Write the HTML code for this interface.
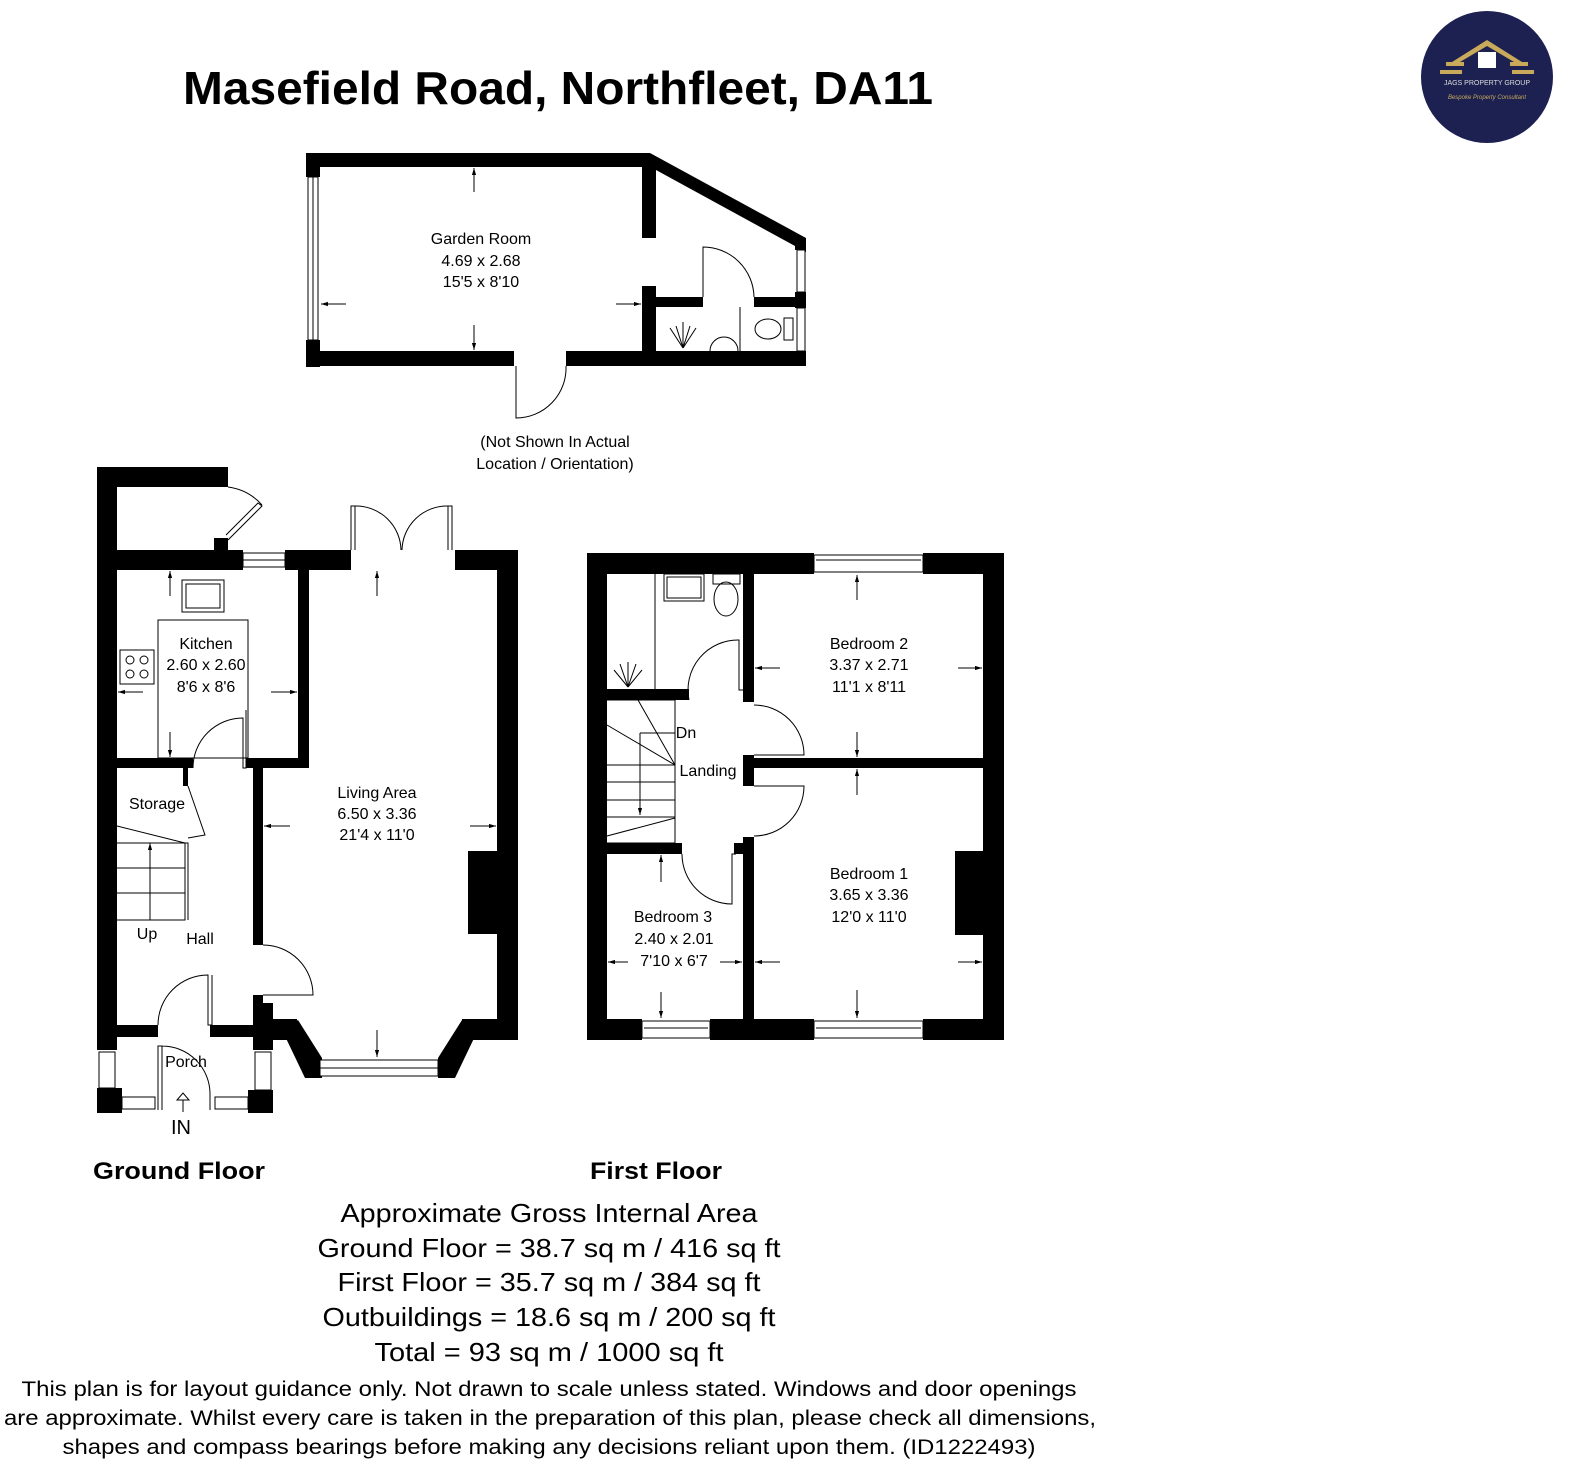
<!DOCTYPE html>
<html><head><meta charset="utf-8"><style>
html,body{margin:0;padding:0;background:#fff}
svg{display:block}
text{font-family:"Liberation Sans",Arial,sans-serif;fill:#000}
.r{font-size:16px;text-anchor:middle}
.t{fill:none;stroke:#000;stroke-width:1}
.w{fill:#fff;stroke:#000;stroke-width:1}
</style></head><body>
<svg width="1576" height="1472" viewBox="0 0 1576 1472" xmlns="http://www.w3.org/2000/svg">
<defs><marker id="a" viewBox="0 0 10 10" refX="10" refY="5" markerWidth="7" markerHeight="7" orient="auto"><path d="M0,2 L10,5 L0,8z" fill="#000"/></marker></defs>
<rect width="1576" height="1472" fill="#fff"/>
<text x="183" y="104" font-size="46" font-weight="bold" textLength="750" lengthAdjust="spacingAndGlyphs">Masefield Road, Northfleet, DA11</text>

<!-- logo -->
<circle cx="1487" cy="77" r="66" fill="#1c2152"/>
<polygon points="1487,40 1452,62 1460,62 1487,46 1514,62 1522,62" fill="#c9a95a"/>
<rect x="1478" y="52" width="18" height="16" fill="#fff"/>
<rect x="1446" y="62" width="18" height="4" fill="#c9a95a"/><rect x="1510" y="62" width="18" height="4" fill="#c9a95a"/>
<rect x="1440" y="70" width="22" height="4" fill="#c9a95a"/><rect x="1512" y="70" width="22" height="4" fill="#c9a95a"/>
<text x="1487" y="85" font-size="7" text-anchor="middle" style="fill:#ddd">JAGS PROPERTY GROUP</text>
<text x="1487" y="99" font-size="6" text-anchor="middle" font-style="italic" style="fill:#c9a95a">Bespoke Property Consultant</text>

<!-- Garden room -->
<g fill="#000">
<rect x="306" y="153" width="344" height="14"/>
<polygon points="645,153 650,153 806,238 806,252 656,170 645,170"/>
<rect x="306" y="153" width="14" height="24"/>
<rect x="306" y="340" width="14" height="27"/>
<rect x="306" y="351" width="208" height="15"/>
<rect x="566" y="351" width="240" height="15"/>
<rect x="795" y="240" width="11" height="10"/>
<rect x="795" y="292" width="11" height="16"/>
<rect x="642" y="167" width="14" height="71"/>
<rect x="642" y="286" width="14" height="65"/>
<rect x="656" y="297" width="47" height="10"/>
<rect x="754" y="297" width="52" height="10"/>
</g>
<rect class="w" x="308" y="177" width="10" height="163"/><line class="t" x1="313" y1="177" x2="313" y2="340"/>
<rect class="w" x="797" y="250" width="8" height="42"/><rect class="w" x="797" y="308" width="8" height="43"/>
<path class="t" d="M516,366 V418 A50,50 0 0 0 566,366"/>
<path class="t" d="M703,297 V247 A51,51 0 0 1 754,297"/>
<line class="t" x1="740" y1="307" x2="740" y2="351"/>
<ellipse class="t" cx="768" cy="329" rx="13" ry="10"/><rect class="t" x="784" y="318" width="9" height="22"/>
<path class="t" d="M710,351 A14,14 0 0 1 738,351"/>
<g class="t"><line x1="683" y1="348" x2="670" y2="328"/><line x1="683" y1="348" x2="696" y2="328"/><line x1="683" y1="348" x2="683" y2="322"/><line x1="683" y1="348" x2="676" y2="326"/><line x1="683" y1="348" x2="690" y2="326"/></g>
<g class="t" marker-end="url(#a)"><line x1="474" y1="192" x2="474" y2="168"/><line x1="474" y1="325" x2="474" y2="350"/><line x1="346" y1="304" x2="321" y2="304"/><line x1="616" y1="304" x2="641" y2="304"/></g>
<text class="r" x="481" y="244">Garden Room</text>
<text class="r" x="481" y="266">4.69 x 2.68</text>
<text class="r" x="481" y="287">15'5 x 8'10</text>
<text class="r" x="555" y="447">(Not Shown In Actual</text>
<text class="r" x="555" y="469">Location / Orientation)</text>

<!-- Ground floor -->
<g fill="#000">
<rect x="97" y="467" width="20" height="583"/>
<rect x="97" y="467" width="131" height="20"/>
<rect x="214" y="538" width="14" height="14"/>
<rect x="97" y="550" width="146" height="20"/>
<rect x="285" y="550" width="66" height="20"/>
<rect x="455" y="550" width="63" height="20"/>
<rect x="497" y="550" width="21" height="490"/>
<rect x="468" y="851" width="30" height="83"/>
<rect x="298" y="570" width="11" height="198"/>
<rect x="97" y="758" width="96" height="10"/>
<rect x="246" y="758" width="63" height="10"/>
<rect x="253" y="768" width="10" height="177"/>
<rect x="253" y="995" width="10" height="45"/>
<rect x="253" y="1019" width="44" height="21"/>
<rect x="462" y="1019" width="56" height="21"/>
<polygon points="283,1032 298,1020 322,1058 322,1078 305,1078"/>
<polygon points="477,1032 462,1020 438,1058 438,1078 455,1078"/>
<rect x="117" y="1025" width="41" height="12"/>
<rect x="210" y="1025" width="43" height="12"/>
<rect x="253" y="1003" width="20" height="47"/>
<rect x="97" y="1088" width="25" height="25"/>
<rect x="248" y="1090" width="25" height="23"/>
<rect x="183" y="768" width="5" height="18"/>
</g>
<rect class="w" x="243" y="553" width="42" height="14"/><line class="t" x1="243" y1="560" x2="285" y2="560"/>
<rect class="w" x="320" y="1060" width="118" height="16"/><line class="t" x1="320" y1="1068" x2="438" y2="1068"/>
<rect class="w" x="99" y="1052" width="16" height="36"/><rect class="w" x="255" y="1052" width="16" height="38"/>
<rect class="w" x="122" y="1097" width="33" height="12"/><rect class="w" x="215" y="1097" width="33" height="12"/>
<path class="t" d="M351,550 V506 H355 V550 M355,506 A45,45 0 0 1 401,550 M452,550 V506 H448 V550 M448,506 A45,45 0 0 0 402,550"/>
<path class="t" d="M228,540 L262,506 L258,503 L226,535 M228,487 A55,55 0 0 1 262,505"/>
<path class="t" d="M193,768 A50,50 0 0 1 243,718 V768 H246 V710"/>
<path class="t" d="M263,945 A50,50 0 0 1 313,995 H263"/>
<path class="t" d="M158,1025 A50,50 0 0 1 208,975 V1025 H212 V975"/>
<path class="t" d="M158,1110 V1046 H162 V1110 M162,1046 A48,48 0 0 1 210,1094 V1110"/>
<path class="t" d="M183,1112 V1100 H177 L183,1093 L189,1100 H183"/>
<rect class="t" x="158" y="620" width="90" height="138"/>
<rect class="w" x="182" y="580" width="42" height="32"/><rect class="t" x="186" y="584" width="34" height="24"/>
<rect class="w" x="120" y="650" width="34" height="34"/>
<g class="t"><circle cx="130" cy="660" r="4"/><circle cx="144" cy="660" r="4"/><circle cx="130" cy="674" r="4"/><circle cx="144" cy="674" r="4"/></g>
<path class="t" d="M188,786 L205,835 L188,838"/>
<path class="t" d="M117,826 L185,843 M117,843 H185 V920 H117 M117,868 H185 M117,893 H185 M185,843 H188 V920"/>
<line class="t" x1="150" y1="920" x2="150" y2="843" marker-end="url(#a)"/>
<g class="t" marker-end="url(#a)"><line x1="170" y1="596" x2="170" y2="571"/><line x1="170" y1="732" x2="170" y2="757"/><line x1="143" y1="692" x2="118" y2="692"/><line x1="271" y1="692" x2="297" y2="692"/>
<line x1="377" y1="596" x2="377" y2="571"/><line x1="377" y1="1030" x2="377" y2="1057"/><line x1="290" y1="826" x2="264" y2="826"/><line x1="470" y1="826" x2="496" y2="826"/></g>
<text class="r" x="206" y="649">Kitchen</text>
<text class="r" x="206" y="670">2.60 x 2.60</text>
<text class="r" x="206" y="692">8'6 x 8'6</text>
<text class="r" x="377" y="798">Living Area</text>
<text class="r" x="377" y="819">6.50 x 3.36</text>
<text class="r" x="377" y="840">21'4 x 11'0</text>
<text class="r" x="157" y="809">Storage</text>
<text class="r" x="147" y="939">Up</text>
<text class="r" x="200" y="944">Hall</text>
<text class="r" x="186" y="1067">Porch</text>
<text x="181" y="1134" font-size="20" text-anchor="middle">IN</text>
<text x="179" y="1179" font-size="24" font-weight="bold" text-anchor="middle" textLength="172" lengthAdjust="spacingAndGlyphs">Ground Floor</text>

<!-- First floor -->
<g fill="#000">
<rect x="587" y="553" width="227" height="21"/>
<rect x="923" y="553" width="81" height="21"/>
<rect x="587" y="553" width="20" height="487"/>
<rect x="983" y="553" width="21" height="487"/>
<rect x="587" y="1019" width="55" height="21"/>
<rect x="710" y="1019" width="104" height="21"/>
<rect x="923" y="1019" width="81" height="21"/>
<rect x="743" y="574" width="11" height="128"/>
<rect x="743" y="755" width="11" height="31"/>
<rect x="743" y="837" width="11" height="182"/>
<rect x="754" y="758" width="250" height="10"/>
<rect x="607" y="689" width="82" height="11"/>
<rect x="607" y="843" width="75" height="11"/>
<rect x="734" y="843" width="9" height="11"/>
<rect x="955" y="851" width="28" height="84"/>
</g>
<rect class="w" x="814" y="555" width="109" height="17"/><line class="t" x1="816" y1="560" x2="921" y2="560"/>
<rect class="w" x="642" y="1021" width="68" height="17"/><line class="t" x1="644" y1="1028" x2="708" y2="1028"/>
<rect class="w" x="814" y="1021" width="109" height="17"/><line class="t" x1="816" y1="1028" x2="921" y2="1028"/>
<line class="t" x1="655" y1="574" x2="655" y2="689"/>
<rect class="t" x="664" y="574" width="40" height="27"/><rect class="t" x="667" y="577" width="34" height="21"/>
<rect class="t" x="713" y="574" width="27" height="10"/><ellipse class="t" cx="726" cy="599" rx="12" ry="17"/>
<g class="t"><line x1="628" y1="687" x2="614" y2="670"/><line x1="628" y1="687" x2="642" y2="670"/><line x1="628" y1="687" x2="620" y2="664"/><line x1="628" y1="687" x2="636" y2="664"/><line x1="628" y1="687" x2="628" y2="662"/></g>
<path class="t" d="M689,700 A50,50 0 0 1 739,640 V690 H743"/>
<path class="t" d="M754,705 A50,50 0 0 1 804,755 H754"/>
<path class="t" d="M754,836 A50,50 0 0 0 804,786 H754"/>
<path class="t" d="M682,854 A50,50 0 0 0 732,904 V854 H736"/>
<path class="t" d="M607,700 H675 V843 H607 M607,725 L675,765 M638,700 L675,765 M607,765 H675 M607,782 H675 M607,800 H675 M607,817 H675 M607,836 L675,818 M640,733 H675"/>
<line class="t" x1="640" y1="733" x2="640" y2="815" marker-end="url(#a)"/>
<g class="t" marker-end="url(#a)"><line x1="857" y1="600" x2="857" y2="575"/><line x1="857" y1="732" x2="857" y2="757"/><line x1="780" y1="668" x2="755" y2="668"/><line x1="958" y1="668" x2="982" y2="668"/>
<line x1="857" y1="795" x2="857" y2="769"/><line x1="857" y1="990" x2="857" y2="1018"/><line x1="780" y1="962" x2="755" y2="962"/><line x1="958" y1="962" x2="982" y2="962"/>
<line x1="661" y1="882" x2="661" y2="855"/><line x1="661" y1="992" x2="661" y2="1018"/><line x1="628" y1="962" x2="608" y2="962"/><line x1="720" y1="962" x2="742" y2="962"/></g>
<text class="r" x="869" y="649">Bedroom 2</text>
<text class="r" x="869" y="670">3.37 x 2.71</text>
<text class="r" x="869" y="692">11'1 x 8'11</text>
<text class="r" x="869" y="879">Bedroom 1</text>
<text class="r" x="869" y="900">3.65 x 3.36</text>
<text class="r" x="869" y="922">12'0 x 11'0</text>
<rect x="632" y="950" width="88" height="18" fill="#fff"/>
<text class="r" x="673" y="922">Bedroom 3</text>
<text class="r" x="674" y="944">2.40 x 2.01</text>
<text class="r" x="674" y="966">7'10 x 6'7</text>
<text class="r" x="686" y="738">Dn</text>
<text class="r" x="708" y="776">Landing</text>
<text x="656" y="1179" font-size="24" font-weight="bold" text-anchor="middle" textLength="132" lengthAdjust="spacingAndGlyphs">First Floor</text>

<!-- Area text -->
<g font-size="26" text-anchor="middle">
<text x="549" y="1222" textLength="417" lengthAdjust="spacingAndGlyphs">Approximate Gross Internal Area</text>
<text x="549" y="1257" textLength="463" lengthAdjust="spacingAndGlyphs">Ground Floor = 38.7 sq m / 416 sq ft</text>
<text x="549" y="1291" textLength="423" lengthAdjust="spacingAndGlyphs">First Floor = 35.7 sq m / 384 sq ft</text>
<text x="549" y="1326" textLength="453" lengthAdjust="spacingAndGlyphs">Outbuildings = 18.6 sq m / 200 sq ft</text>
<text x="549" y="1361" textLength="349" lengthAdjust="spacingAndGlyphs">Total = 93 sq m / 1000 sq ft</text>
</g>
<g font-size="21" text-anchor="middle">
<text x="549" y="1396" textLength="1055" lengthAdjust="spacingAndGlyphs">This plan is for layout guidance only. Not drawn to scale unless stated. Windows and door openings</text>
<text x="550" y="1425" textLength="1092" lengthAdjust="spacingAndGlyphs">are approximate. Whilst every care is taken in the preparation of this plan, please check all dimensions,</text>
<text x="549" y="1454" textLength="973" lengthAdjust="spacingAndGlyphs">shapes and compass bearings before making any decisions reliant upon them. (ID1222493)</text>
</g>
</svg>
</body></html>
